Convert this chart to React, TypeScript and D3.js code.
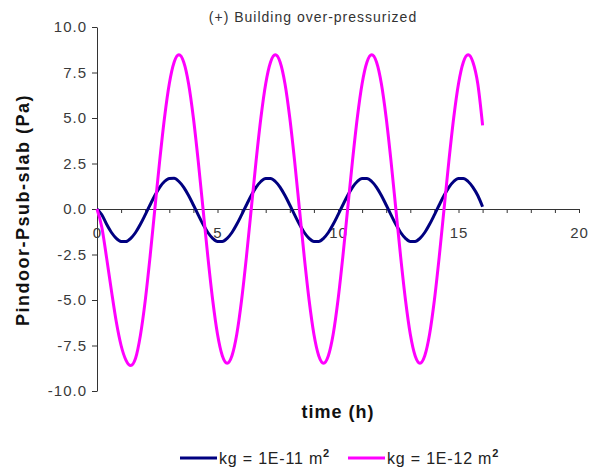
import * as d3 from 'd3';
import { useEffect, useRef } from 'react';

// time samples (h)
const hours = [
  0, 0.2, 0.4, 0.6, 0.8, 1, 1.2, 1.4, 1.6, 1.8, 2, 2.2, 2.4, 2.6, 2.8, 3, 3.2, 3.4, 3.6, 3.8,
  4, 4.2, 4.4, 4.6, 4.8, 5, 5.2, 5.4, 5.6, 5.8, 6, 6.2, 6.4, 6.6, 6.8, 7, 7.2, 7.4, 7.6, 7.8,
  8, 8.2, 8.4, 8.6, 8.8, 9, 9.2, 9.4, 9.6, 9.8, 10, 10.2, 10.4, 10.6, 10.8, 11, 11.2, 11.4, 11.6, 11.8,
  12, 12.2, 12.4, 12.6, 12.8, 13, 13.2, 13.4, 13.6, 13.8, 14, 14.2, 14.4, 14.6, 14.8, 15, 15.2, 15.4, 15.6, 15.8,
  16,
];

// kg = 1E-11 m2
const kg11 = [
  0, -0.32, -0.84, -1.29, -1.61, -1.78, -1.79, -1.61, -1.29, -0.84, -0.32, 0.22, 0.74, 1.19, 1.51, 1.68, 1.69, 1.51, 1.19, 0.74,
  0.22, -0.32, -0.84, -1.29, -1.61, -1.78, -1.78, -1.61, -1.29, -0.84, -0.32, 0.22, 0.74, 1.19, 1.51, 1.68, 1.68, 1.51, 1.19, 0.74,
  0.22, -0.32, -0.84, -1.29, -1.61, -1.78, -1.78, -1.61, -1.29, -0.84, -0.32, 0.22, 0.74, 1.19, 1.51, 1.68, 1.68, 1.51, 1.19, 0.74,
  0.22, -0.32, -0.84, -1.29, -1.61, -1.78, -1.78, -1.61, -1.29, -0.84, -0.32, 0.22, 0.74, 1.19, 1.51, 1.68, 1.68, 1.51, 1.19, 0.74,
  0.12,
];

// kg = 1E-12 m2
const kg12 = [
  0, -1.0, -2.7, -4.5, -6.2, -7.5, -8.3, -8.6, -8.2, -6.95, -5.05, -2.65, 0, 2.63, 5.0, 6.88, 8.06, 8.47, 8.06, 6.88,
  5.0, 2.63, 0, -2.63, -5.0, -6.88, -8.06, -8.47, -8.06, -6.88, -5.0, -2.63, 0, 2.63, 5.0, 6.88, 8.06, 8.47, 8.06, 6.88,
  5.0, 2.63, 0, -2.63, -5.0, -6.88, -8.06, -8.47, -8.06, -6.88, -5.0, -2.63, 0, 2.63, 5.0, 6.88, 8.06, 8.47, 8.06, 6.88,
  5.0, 2.63, 0, -2.63, -5.0, -6.88, -8.06, -8.47, -8.06, -6.88, -5.0, -2.63, 0, 2.63, 5.0, 6.88, 8.06, 8.47, 8.06, 6.88,
  4.6,
];

const yTicks = [-10, -7.5, -5, -2.5, 0, 2.5, 5, 7.5, 10];
const xTicks = [0, 1, 2, 3, 4, 5, 6, 7, 8, 9, 10, 11, 12, 13, 14, 15, 16, 17, 18, 19, 20];

const seriesList = [
  { label: 'kg = 1E-11 m', values: kg11, color: '#000080' },
  { label: 'kg = 1E-12 m', values: kg12, color: '#FF00FF' },
];

const width = 595;
const height = 468;

export default function App() {
  const ref = useRef<SVGSVGElement>(null);

  useEffect(() => {
    document.body.style.margin = '0';
    const svg = d3.select(ref.current);
    svg.selectAll('*').remove();

    const font = 'Liberation Sans, Arial, sans-serif';
    const x = d3.scaleLinear().domain([0, 20]).range([97, 579]);
    const y = d3.scaleLinear().domain([-10, 10]).range([391, 27]);

    // y axis
    const gy = svg.append('g')
      .attr('transform', `translate(${x(0)},0)`)
      .call(d3.axisLeft(y).tickValues(yTicks).tickFormat(d => (+d).toFixed(1)).tickSize(5).tickSizeOuter(0).tickPadding(5));
    gy.select('.domain').attr('stroke', '#333');
    gy.selectAll('.tick line').attr('stroke', '#333');
    gy.selectAll('text')
      .attr('font-family', font)
      .attr('font-size', 15)
      .attr('letter-spacing', 1)
      .attr('fill', '#3a3a3a');

    // x axis on the zero line
    const gx = svg.append('g')
      .attr('transform', `translate(0,${y(0)})`)
      .call(d3.axisBottom(x).tickValues(xTicks)
        .tickFormat(d => (+d % 5 === 0 ? String(d) : ''))
        .tickSize(4).tickSizeOuter(0).tickPadding(14));
    gx.select('.domain').attr('stroke', '#333');
    gx.selectAll('.tick line').attr('stroke', '#333');
    gx.selectAll('text')
      .attr('font-family', font)
      .attr('font-size', 15)
      .attr('letter-spacing', 1)
      .attr('fill', '#3a3a3a');

    // lines
    const line = d3.line<number>()
      .x((_, i) => x(hours[i]))
      .y(d => y(d))
      .curve(d3.curveMonotoneX);

    seriesList.forEach(s => {
      svg.append('path')
        .datum(s.values)
        .attr('fill', 'none')
        .attr('stroke', s.color)
        .attr('stroke-width', 3)
        .attr('stroke-linejoin', 'round')
        .attr('d', line);
    });

    // title
    svg.append('text')
      .attr('x', 313)
      .attr('y', 22)
      .attr('text-anchor', 'middle')
      .attr('font-family', font)
      .attr('font-size', 14)
      .attr('letter-spacing', 1)
      .attr('fill', '#333')
      .text('(+) Building over-pressurized');

    // axis titles
    svg.append('text')
      .attr('transform', 'translate(29,210) rotate(-90)')
      .attr('text-anchor', 'middle')
      .attr('font-family', font)
      .attr('font-size', 18)
      .attr('font-weight', 'bold')
      .attr('letter-spacing', 1.5)
      .attr('fill', '#111')
      .text('Pindoor-Psub-slab (Pa)');

    svg.append('text')
      .attr('x', 338)
      .attr('y', 418)
      .attr('text-anchor', 'middle')
      .attr('font-family', font)
      .attr('font-size', 18)
      .attr('font-weight', 'bold')
      .attr('letter-spacing', 1)
      .attr('fill', '#111')
      .text('time (h)');

    // legend
    const legendX = [180, 348];
    seriesList.forEach((s, i) => {
      const g = svg.append('g').attr('transform', `translate(${legendX[i]},458)`);
      g.append('line')
        .attr('x1', 0).attr('x2', 37)
        .attr('stroke', s.color)
        .attr('stroke-width', 3);
      const t = g.append('text')
        .attr('x', 39)
        .attr('y', 6)
        .attr('font-family', font)
        .attr('font-size', 16)
        .attr('letter-spacing', 0.8)
        .attr('fill', '#222');
      t.append('tspan').text(s.label);
      t.append('tspan')
        .attr('dy', -7)
        .attr('font-size', 11)
        .attr('font-weight', 'bold')
        .text('2');
    });
  }, []);

  return <svg ref={ref} width={width} height={height} style={{ display: 'block' }} />;
}
